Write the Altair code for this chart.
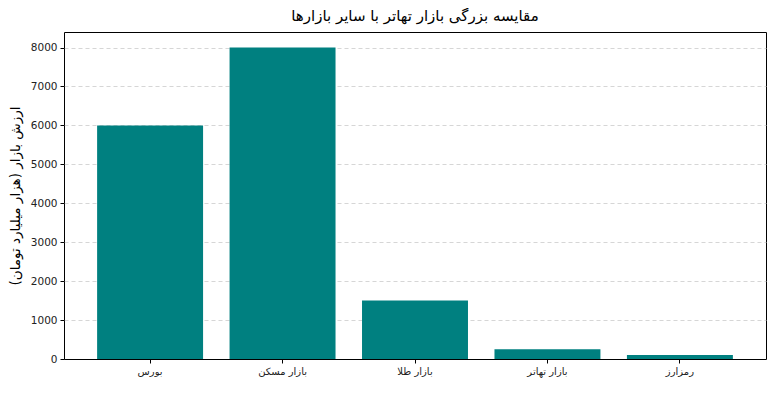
import altair as alt
import pandas as pd

categories = ["بورس", "بازار مسکن", "بازار طلا", "بازار تهاتر", "رمزارز"]
values = [6000, 8000, 1500, 250, 100]

df = pd.DataFrame({"market": categories, "value": values})

FONT = "DejaVu Sans"

chart = alt.Chart(df).mark_bar(color="#008080").encode(
    x=alt.X("market:N", sort=categories, title=None,
            scale=alt.Scale(paddingInner=0.2, paddingOuter=0.25),
            axis=alt.Axis(labelAngle=0, labelFontSize=10, labelColor="#222",
                          tickColor="black", tickSize=4, domain=False, grid=False,
                          labelPadding=3)),
    y=alt.Y("value:Q", title="ارزش بازار (هزار میلیارد تومان)",
            scale=alt.Scale(domain=[0, 8400], nice=False),
            axis=alt.Axis(values=list(range(0, 8001, 1000)), format="d",
                          labelFontSize=10.5,
                          labelColor="#222", tickColor="black", tickSize=4,
                          domain=False, grid=True, gridDash=[4, 3],
                          gridColor="#cccccc",
                          gridOpacity={"condition": {"test": "datum.value == 0", "value": 0}, "value": 0.8},
                          titleFontSize=13.5, titleFontWeight="normal",
                          titleColor="black", titlePadding=8, labelPadding=3)),
).properties(
    width=702,
    height=327,
    title=alt.TitleParams("مقایسه بزرگی بازار تهاتر با سایر بازارها",
                          fontSize=15, fontWeight="normal", font=FONT,
                          color="black", anchor="middle", offset=8),
    autosize=alt.AutoSizeParams(type="none"),
    padding={"left": 56, "top": 24, "right": 6, "bottom": 30},
).configure(font=FONT).configure_view(stroke="black", strokeWidth=1)

chart.save("out.html", embed_options={"renderer": "svg", "actions": False})
